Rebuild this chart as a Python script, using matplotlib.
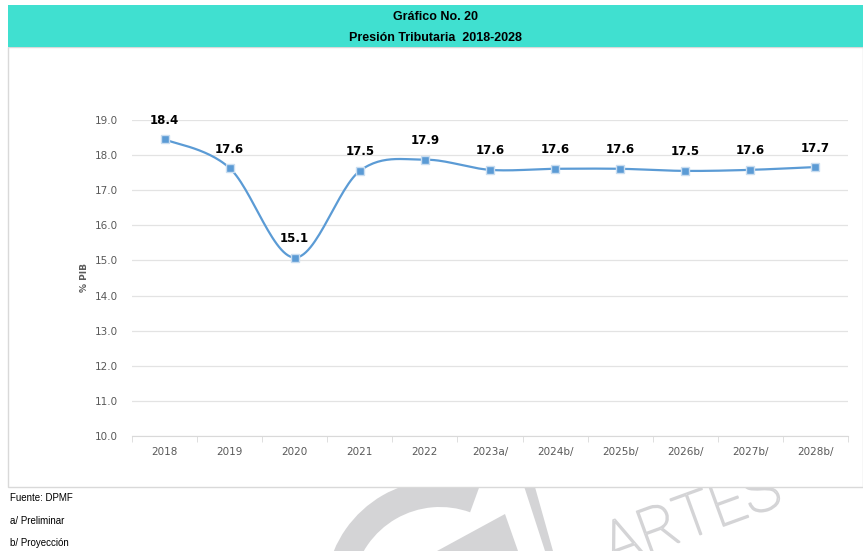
import numpy as np
import matplotlib.pyplot as plt
import matplotlib.patheffects as pe
from matplotlib.patches import Rectangle, Wedge, Polygon
from matplotlib.transforms import Affine2D

years = ['2018', '2019', '2020', '2021', '2022', '2023a/', '2024b/',
         '2025b/', '2026b/', '2027b/', '2028b/']
presion = [18.45, 17.63, 15.08, 17.55, 17.87, 17.58, 17.61, 17.61, 17.55, 17.58, 17.66]
etiquetas = ['18.4', '17.6', '15.1', '17.5', '17.9', '17.6', '17.6', '17.6', '17.5', '17.6', '17.7']
yticks = [10.0, 11.0, 12.0, 13.0, 14.0, 15.0, 16.0, 17.0, 18.0, 19.0]
notas = ['Fuente: DPMF', 'a/ Preliminar', 'b/ Proyección']

azul = '#5B9BD5'
gris = '#595959'
marca = '#D4D4D6'
narrow = ['Liberation Sans Narrow', 'Liberation Sans', 'DejaVu Sans']


def catmull_rom(x, y, n=30):
    # curva suavizada tipo Excel entre puntos consecutivos
    p = np.column_stack([x, y]).astype(float)
    p = np.vstack([p[0], p, p[-1]])
    out = []
    t = np.linspace(0, 1, n)[:, None]
    for i in range(1, len(p) - 2):
        p0, p1, p2, p3 = p[i - 1], p[i], p[i + 1], p[i + 2]
        seg = 0.5 * ((2 * p1) + (-p0 + p2) * t
                     + (2 * p0 - 5 * p1 + 4 * p2 - p3) * t ** 2
                     + (-p0 + 3 * p1 - 3 * p2 + p3) * t ** 3)
        out.append(seg)
    out = np.vstack(out)
    return out[:, 0], out[:, 1]


fig = plt.figure(figsize=(8.63, 5.51), dpi=100)
W, H = 863, 551
# coordenadas en pixeles (y hacia abajo) para el fondo
px = Affine2D().scale(1 / W, -1 / H).translate(0, 1) + fig.transFigure

# marca de agua gris del fondo
fig.patches.append(Wedge((440, 595), 115, 190, 290, width=27, transform=px,
                         facecolor=marca, edgecolor='none', zorder=-3))
fig.patches.append(Polygon([(437, 551), (505, 514), (518, 551)], closed=True,
                           transform=px, facecolor=marca, edgecolor='none', zorder=-3))
fig.patches.append(Polygon([(522, 480), (533, 480), (553, 551), (545, 551)],
                           closed=True, transform=px, facecolor=marca,
                           edgecolor='none', zorder=-3))
t = fig.text(596 / W, 1 - 566 / H, 'ARTES', rotation=20, fontsize=44,
             fontweight=100, family=['Roboto', 'Lato', 'DejaVu Sans'],
             color='none', ha='left', va='baseline', zorder=-3)
t.set_path_effects([pe.Stroke(linewidth=1.2, foreground=marca)])

# marco del grafico y banda de titulo
fig.patches.append(Rectangle((8 / W, 1 - 487 / H), 1 - 8 / W, (487 - 47) / H,
                             transform=fig.transFigure, facecolor='white',
                             edgecolor='#D9D9D9', lw=1, zorder=-2))
fig.patches.append(Rectangle((8 / W, 1 - 47 / H), 1 - 8 / W, 42 / H,
                             transform=fig.transFigure, facecolor='#40E0D0',
                             edgecolor='none', zorder=-1))
fig.text(0.5 + 4 / W, 1 - 17 / H, 'Gráfico No. 20', ha='center', va='center',
         fontsize=9, fontweight='bold', family=narrow)
fig.text(0.5 + 4 / W, 1 - 38 / H, 'Presión Tributaria  2018-2028', ha='center',
         va='center', fontsize=9, fontweight='bold', family=narrow)

ax = fig.add_axes([132 / W, 1 - 436 / H, (848 - 132) / W, (436 - 120) / H])
ax.set_zorder(5)
ax.set_facecolor('none')
x = np.arange(len(years))
xs, ys = catmull_rom(x, presion)
ax.plot(xs, ys, color=azul, lw=1.6, zorder=3)
ax.plot(x, presion, ls='none', marker='s', ms=6, mfc=azul, mec='#C9DDF0',
        mew=1, zorder=4)
for xi, yi, lab in zip(x, presion, etiquetas):
    ax.annotate(lab, (xi, yi), xytext=(0, 9), textcoords='offset points',
                ha='center', va='bottom', fontsize=8.5, fontweight='bold',
                color='black')

ax.set_xlim(-0.5, len(years) - 0.5)
ax.set_ylim(10, 19)
ax.set_yticks(yticks)
ax.set_yticklabels([f'{v:.1f}' for v in yticks])
ax.set_xticks(x)
ax.set_xticklabels(years)
ax.set_xticks(np.arange(-0.5, len(years)), minor=True)
ax.grid(axis='y', color='#E3E3E3', lw=0.9)
ax.set_axisbelow(True)
for s in ['top', 'right', 'left']:
    ax.spines[s].set_visible(False)
ax.spines['bottom'].set_color('#D9D9D9')
ax.tick_params(axis='x', which='major', length=0, pad=8, labelsize=7.5,
               labelcolor=gris)
ax.tick_params(axis='x', which='minor', length=4, color='#D9D9D9', direction='out')
ax.tick_params(axis='y', length=0, pad=10, labelsize=7.5, labelcolor=gris)
ax.set_ylabel('% PIB', fontsize=6.5, fontweight='bold', color=gris, labelpad=4)

for i, nota in enumerate(notas):
    fig.text(10 / W, 1 - (498 + 22.5 * i) / H, nota, ha='left', va='center',
             fontsize=7, family=narrow)

fig.savefig('out.png', dpi=100)
